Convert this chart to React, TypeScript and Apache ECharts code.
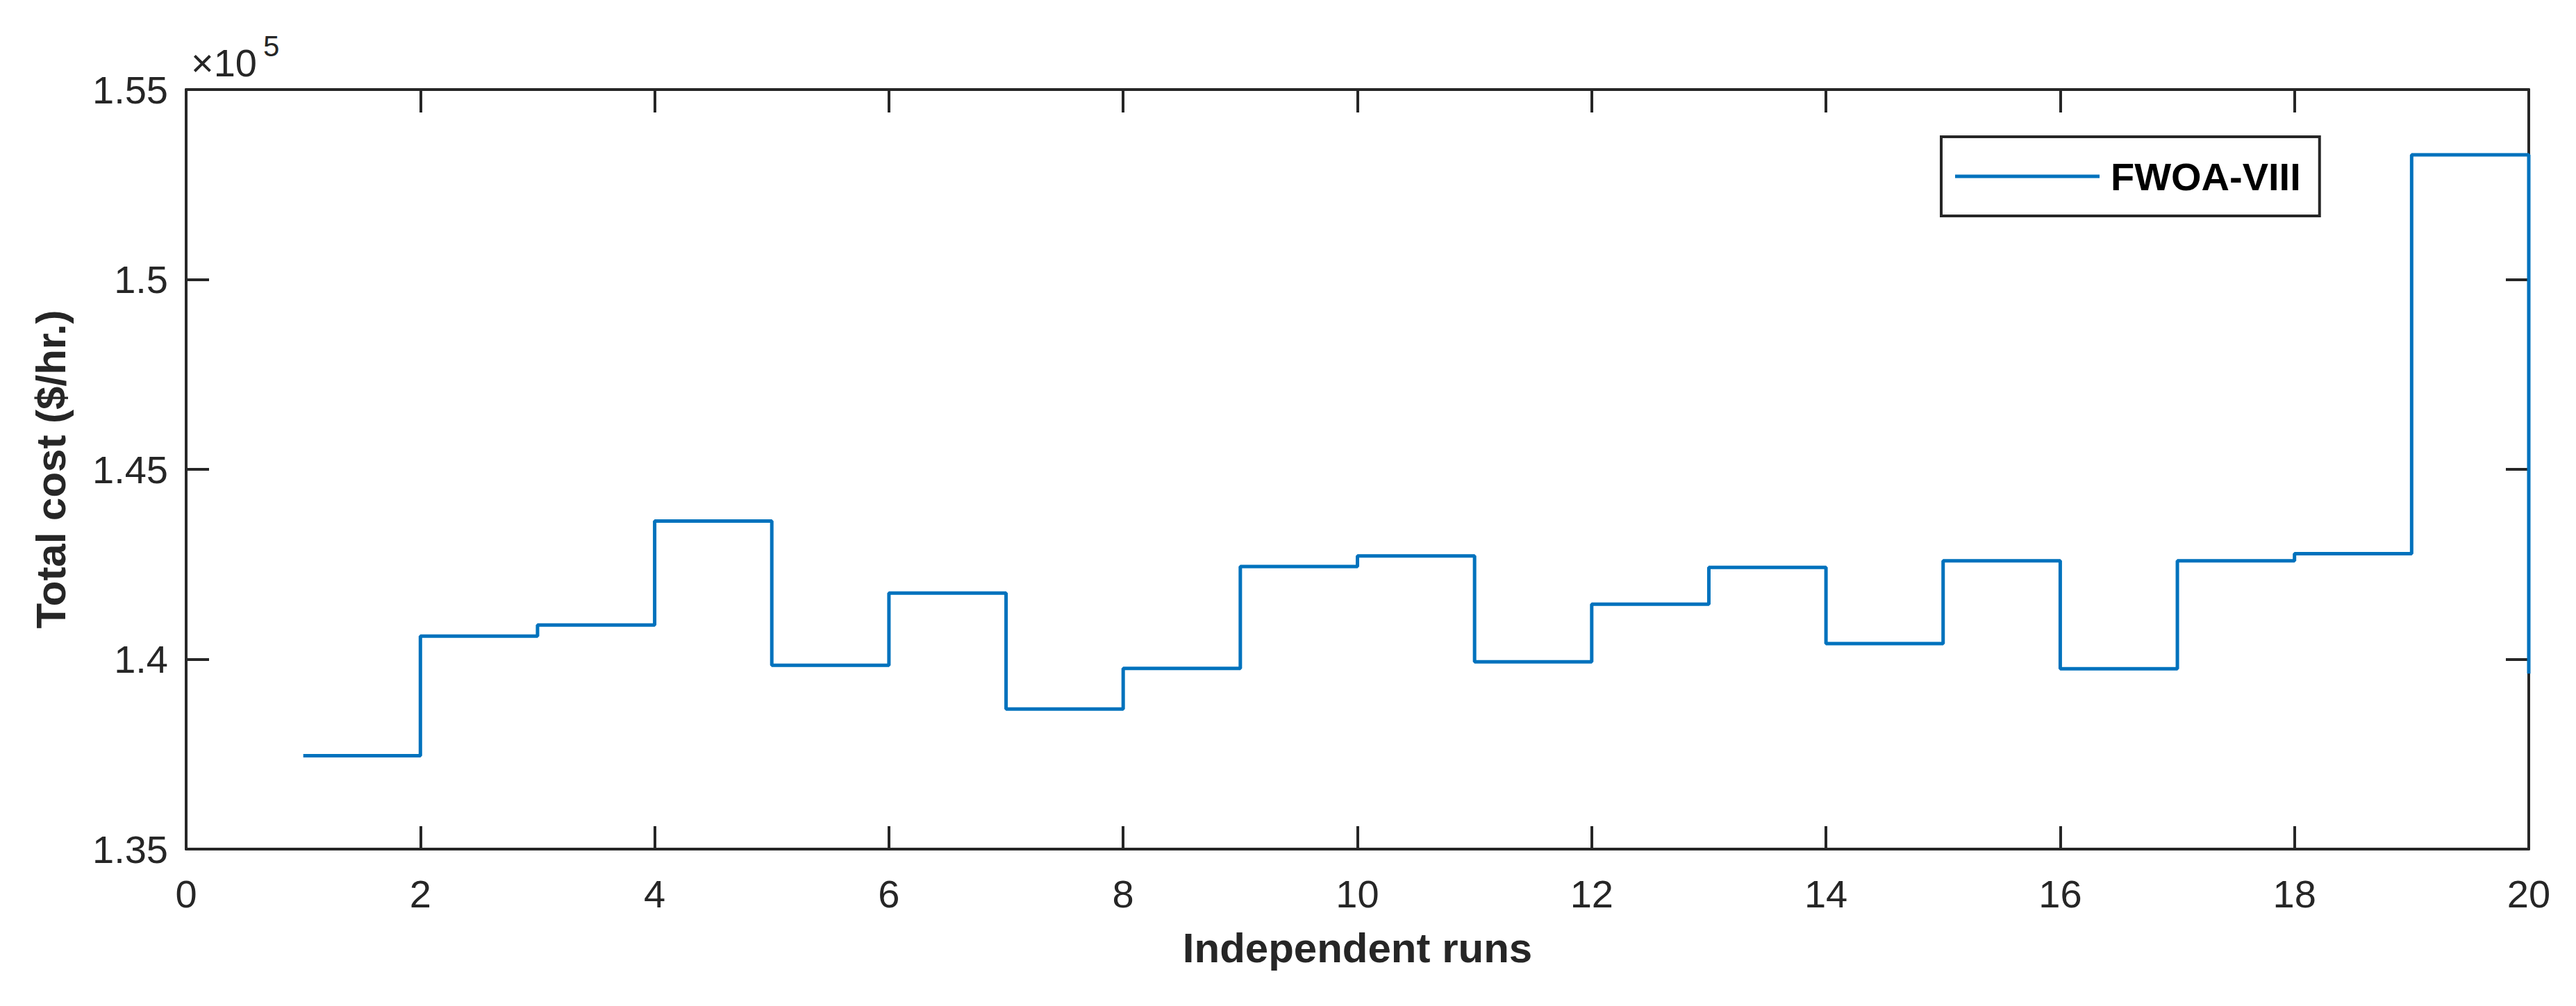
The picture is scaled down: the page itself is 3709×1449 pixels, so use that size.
import React, { useEffect, useRef } from 'react';
import * as echarts from 'echarts';

const runs = [1, 2, 3, 4, 5, 6, 7, 8, 9, 10, 11, 12, 13, 14, 15, 16, 17, 18, 19, 20];
const totalCost = [
  137460, 140610, 140900, 143640, 139840, 141740, 138690, 139760, 142440, 142720,
  139930, 141450, 142420, 140410, 142590, 139750, 142590, 142780, 153280, 139620,
];
const seriesName = 'FWOA-VIII';
const xLabel = 'Independent runs';
const yLabel = 'Total cost ($/hr.)';
const yScaleText = '×10';
const yExponentText = '5';
const xMin = 0;
const xMax = 20;
const xStep = 2;
const yMin = 135000;
const yMax = 155000;
const yStep = 5000;

const FONT = '"Liberation Sans", Arial, Helvetica, sans-serif';
const AXIS_COLOR = '#262626';
const LINE_COLOR = '#0072BD';

export default function App() {
  const ref = useRef<HTMLDivElement>(null);

  useEffect(() => {
    if (!ref.current) return;
    const chart = echarts.init(ref.current, undefined, { renderer: 'svg' });

    const axisLine = { show: true, onZero: false, lineStyle: { color: AXIS_COLOR, width: 4 } };
    const axisTick = { show: true, inside: true, length: 33, lineStyle: { color: AXIS_COLOR, width: 4 } };
    const labelStyle = { fontSize: 56, color: AXIS_COLOR, fontFamily: FONT };
    const nameStyle = { fontSize: 60, fontWeight: 'bold' as const, color: AXIS_COLOR, fontFamily: FONT };

    const option: any = {
      animation: false,
      backgroundColor: '#ffffff',
      grid: { left: 268, right: 68, top: 129, bottom: 226, containLabel: false },
      xAxis: [
        {
          type: 'value', min: xMin, max: xMax, interval: xStep, position: 'bottom',
          axisLine, axisTick,
          axisLabel: { ...labelStyle, margin: 36 },
          splitLine: { show: false },
          name: xLabel, nameLocation: 'middle', nameGap: 112, nameTextStyle: nameStyle,
        },
        {
          type: 'value', min: xMin, max: xMax, interval: xStep, position: 'top',
          axisLine, axisTick, axisLabel: { show: false }, splitLine: { show: false },
        },
      ],
      yAxis: [
        {
          type: 'value', min: yMin, max: yMax, interval: yStep, position: 'left',
          axisLine, axisTick,
          axisLabel: {
            ...labelStyle, margin: 26,
            formatter: (v: number) => String(Math.round(v / 1000) / 100),
          },
          splitLine: { show: false },
          name: yLabel, nameLocation: 'middle', nameGap: 165, nameRotate: 90, nameTextStyle: nameStyle,
        },
        {
          type: 'value', min: yMin, max: yMax, interval: yStep, position: 'right',
          axisLine, axisTick, axisLabel: { show: false }, splitLine: { show: false },
        },
      ],
      legend: {
        show: true,
        data: [{ name: seriesName, icon: 'rect' }],
        left: 2795,
        top: 197,
        orient: 'horizontal',
        padding: [27, 27, 27, 20],
        itemWidth: 208,
        itemHeight: 5,
        itemGap: 0,
        borderColor: AXIS_COLOR,
        borderWidth: 4,
        borderRadius: 0,
        backgroundColor: '#ffffff',
        itemStyle: { color: LINE_COLOR, borderWidth: 0 },
        textStyle: {
          fontSize: 56, fontWeight: 'bold', color: '#000000', fontFamily: FONT,
          padding: [0, 0, 0, 11], lineHeight: 60,
        },
      },
      graphic: [
        {
          type: 'text', x: 275, y: 90,
          style: { text: yScaleText, fontSize: 56, fontFamily: FONT, fill: AXIS_COLOR, align: 'left', verticalAlign: 'middle' },
        },
        {
          type: 'text', x: 379, y: 66,
          style: { text: yExponentText, fontSize: 42, fontFamily: FONT, fill: AXIS_COLOR, align: 'left', verticalAlign: 'middle' },
        },
      ],
      series: [
        {
          type: 'line',
          name: seriesName,
          xAxisIndex: 0,
          yAxisIndex: 0,
          step: 'end',
          symbol: 'none',
          data: runs.map((r, i) => [r, totalCost[i]]),
          lineStyle: { color: LINE_COLOR, width: 5 },
          itemStyle: { color: LINE_COLOR },
        },
      ],
    };

    chart.setOption(option);
    return () => chart.dispose();
  }, []);

  return (
    <div
      ref={ref}
      style={{ position: 'fixed', left: 0, top: 0, width: 3709, height: 1449, background: '#fff' }}
    />
  );
}
